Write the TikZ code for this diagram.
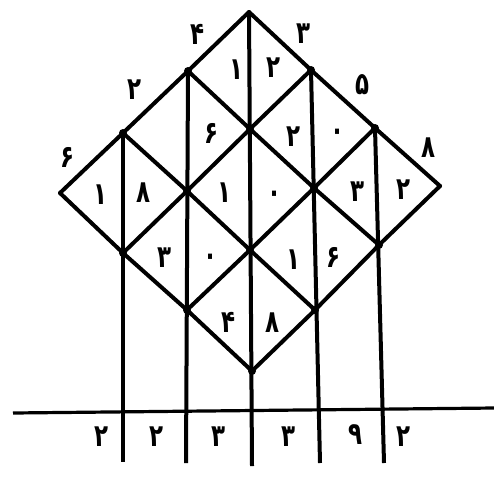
\documentclass[tikz,border=0pt]{standalone}
\usepackage{fontspec}
\usepackage{graphicx}
\newfontfamily\pf[Script=Arabic]{DejaVu Sans}
\newcommand{\pdg}[1]{\scalebox{0.85}[1.15]{#1}}
\begin{document}
\begin{tikzpicture}[x=1pt,y=-1pt,
  grid/.style={line width=4pt,line join=round,line cap=round},
  rule/.style={line width=4pt,line cap=butt},
  knot/.style={circle,fill=black,inner sep=0pt,minimum size=8pt},
  dig/.style={font=\pf\bfseries\fontsize{27}{27}\selectfont,inner sep=0pt},
  edig/.style={dig}]
\useasboundingbox[fill=white] (0,0) rectangle (494,490);
% lattice nodes
\coordinate (n00) at (249,12);
\coordinate (n10) at (311,70);
\coordinate (n20) at (375,128);
\coordinate (n30) at (440,186);
\coordinate (n01) at (188,71);
\coordinate (n11) at (250,129);
\coordinate (n21) at (314,188);
\coordinate (n31) at (379,245);
\coordinate (n02) at (123,133);
\coordinate (n12) at (187,191);
\coordinate (n22) at (250,250);
\coordinate (n32) at (315,310);
\coordinate (n03) at (60,193);
\coordinate (n13) at (123,253);
\coordinate (n23) at (187,310);
\coordinate (n33) at (252,371);
% vertical ends
\coordinate (b1) at (123,462);
\coordinate (b2) at (186,463);
\coordinate (b3) at (252,466);
\coordinate (b4) at (320,463);
\coordinate (b5) at (384,463);
% horizontal rule ends
\coordinate (h1) at (13,413);
\coordinate (h2) at (494,408);

% diamond lattice
\foreach \j in {0,1,2,3}{
  \draw[grid] (n0\j) -- (n1\j) -- (n2\j) -- (n3\j);}
\foreach \i in {0,1,2,3}{
  \draw[grid] (n\i0) -- (n\i1) -- (n\i2) -- (n\i3);}
% verticals
\draw[rule] (n02) -- (b1);
\draw[rule] (n01) -- (b2);
\draw[rule] (n00) -- (b3);
\draw[rule] (n10) -- (b4);
\draw[rule] (n20) -- (b5);
% horizontal
\draw[line width=3.2pt] (h1) -- (h2);
% knots
\foreach \k in {n10,n20,n01,n11,n21,n31,n02,n12,n22,n32,n13,n23,n33}{
  \node[knot] at (\k) {};}

% edge digits
\node[edig] (e4) at (197,34) {\pdg{۴}};
\node[edig] (e2) at (135,90) {\pdg{۲}};
\node[edig] (e6) at (68,157) {\pdg{۶}};
\node[edig] (e3) at (303,34) {\pdg{۳}};
\node[edig] (e5) at (362,85) {\pdg{۵}};
\node[edig] (e8) at (428,148) {\pdg{۸}};
% cell digits
\node[dig] (c00a) at (236,70) {\pdg{۱}};
\node[dig] (c00b) at (273,68) {\pdg{۲}};
\node[dig] (c01b) at (211,133) {\pdg{۶}};
\node[dig] (c10a) at (293,137) {\pdg{۲}};
\node[dig] (c10b) at (337,135) {\pdg{۰}};
\node[dig] (c02a) at (101,195) {\pdg{۱}};
\node[dig] (c02b) at (144,193) {\pdg{۸}};
\node[dig] (c11a) at (224,193) {\pdg{۱}};
\node[dig] (c11b) at (274,197) {\pdg{۰}};
\node[dig] (c20a) at (357,192) {\pdg{۳}};
\node[dig] (c20b) at (403,190) {\pdg{۲}};
\node[dig] (c12a) at (165,258) {\pdg{۳}};
\node[dig] (c12b) at (210,260) {\pdg{۰}};
\node[dig] (c21a) at (293,260) {\pdg{۱}};
\node[dig] (c21b) at (333,257) {\pdg{۶}};
\node[dig] (c22a) at (228,322) {\pdg{۴}};
\node[dig] (c22b) at (272,323) {\pdg{۸}};
% result digits
\node[dig] (r1) at (102,437) {\pdg{۲}};
\node[dig] (r2) at (157,437) {\pdg{۲}};
\node[dig] (r3) at (218,437) {\pdg{۳}};
\node[dig] (r4) at (288,437) {\pdg{۳}};
\node[dig] (r5) at (355,435) {\pdg{۹}};
\node[dig] (r6) at (403,437) {\pdg{۲}};
\end{tikzpicture}
\end{document}
